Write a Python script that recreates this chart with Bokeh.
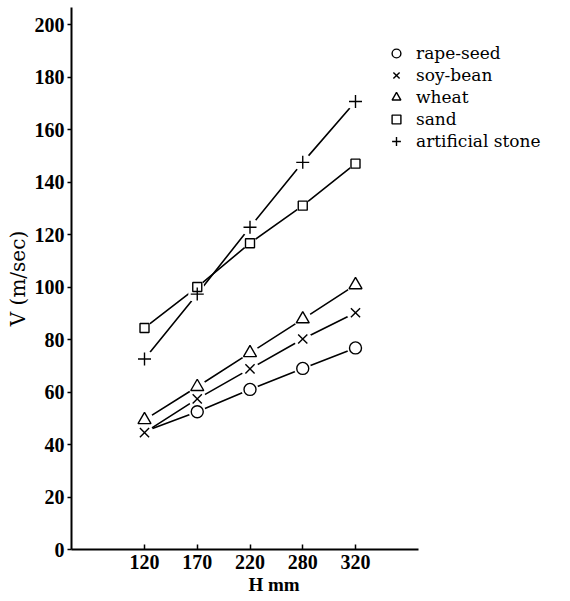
import math
from bokeh.plotting import figure
from bokeh.models import Range1d, FixedTicker, Legend, LegendItem, Title
from bokeh.embed import file_html
from bokeh.resources import INLINE

# ---- data ----
H_labels = ["120", "170", "220", "280", "320"]
rape_seed = [45, 52.5, 61, 69, 76.8]          # first point starts at soy-bean marker (no circle drawn)
soy_bean = [44.5, 57.4, 68.8, 80.2, 90.2]
wheat = [49.4, 62, 74.9, 87.8, 100.8]
sand = [84.4, 100, 116.7, 131, 147]
artificial_stone = [72.6, 97.3, 122.8, 147.5, 170.7]
y_ticks = [0, 20, 40, 60, 80, 100, 120, 140, 160, 180, 200]

xs = list(range(len(H_labels)))

X0, X1, XEND = -1.384, 5.194, 8.076
p = figure(width=570, height=601, output_backend="svg", toolbar_location=None,
           x_range=Range1d(X0, XEND), y_range=Range1d(0, 206.5),
           min_border_left=71, min_border_right=0, min_border_top=7, min_border_bottom=52)
p.outline_line_color = None
p.xgrid.visible = False
p.ygrid.visible = False
p.background_fill_color = "white"
p.border_fill_color = "white"

# axes
p.xaxis.bounds = (X0, X1)
p.xaxis.ticker = FixedTicker(ticks=xs)
p.xaxis.major_label_overrides = {i: lab for i, lab in zip(xs, H_labels)}
p.yaxis.ticker = FixedTicker(ticks=y_ticks)
for ax in (p.xaxis[0], p.yaxis[0]):
    ax.axis_line_width = 2
    ax.axis_line_color = "black"
    ax.major_tick_line_color = "black"
    ax.major_tick_line_width = 1.5
    ax.minor_tick_line_color = None
    ax.major_label_text_font = "Liberation Serif"
    ax.major_label_text_font_style = "bold"
    ax.major_label_text_font_size = "20px"
    ax.major_label_text_color = "black"
p.xaxis.major_tick_in = 5
p.xaxis.major_tick_out = 0
p.xaxis.major_label_standoff = 5
p.yaxis.major_tick_in = 0
p.yaxis.major_tick_out = 4
p.yaxis.major_label_standoff = 3

p.yaxis.axis_label = "V (m/sec)"
p.yaxis.axis_label_text_font = "DejaVu Serif"
p.yaxis.axis_label_text_font_style = "normal"
p.yaxis.axis_label_text_font_size = "20px"
p.yaxis.axis_label_text_color = "black"
p.yaxis.axis_label_standoff = 2

p.add_layout(Title(text="H mm", align="left", offset=177, standoff=1,
                   text_font="Liberation Serif", text_font_style="bold",
                   text_font_size="19px", text_color="black"), "below")

series = [
    ("rape-seed", rape_seed, "circle", 12, 1),
    ("soy-bean", soy_bean, "x", 13, 0),
    ("wheat", wheat, "triangle", 13, 0),
    ("sand", sand, "square", 9, 0),
    ("artificial stone", artificial_stone, "cross", 13, 0),
]

items = []
for name, ys, marker, size, start in series:
    p.line(xs, ys, line_color="black", line_width=1.6)
for name, ys, marker, size, start in series:
    mx, my = xs[start:], ys[start:]
    p.scatter(mx, my, marker="circle", size=size + 5, fill_color="white", line_color=None)
for name, ys, marker, size, start in series:
    mx, my = xs[start:], ys[start:]
    r = p.scatter(mx, my, marker=marker, size=size, fill_color="white",
                  line_color="black", line_width=1.4)
    items.append(LegendItem(label=name, renderers=[r]))

legend = Legend(items=items, location=(312, 397), padding=0, margin=0,
                border_line_color=None, background_fill_alpha=0,
                glyph_width=26, glyph_height=22, label_height=22, spacing=0,
                label_standoff=7,
                label_text_font="DejaVu Serif", label_text_font_size="17px",
                label_text_color="black")
p.add_layout(legend, "center")

open("out.html", "w").write(file_html(p, INLINE))
